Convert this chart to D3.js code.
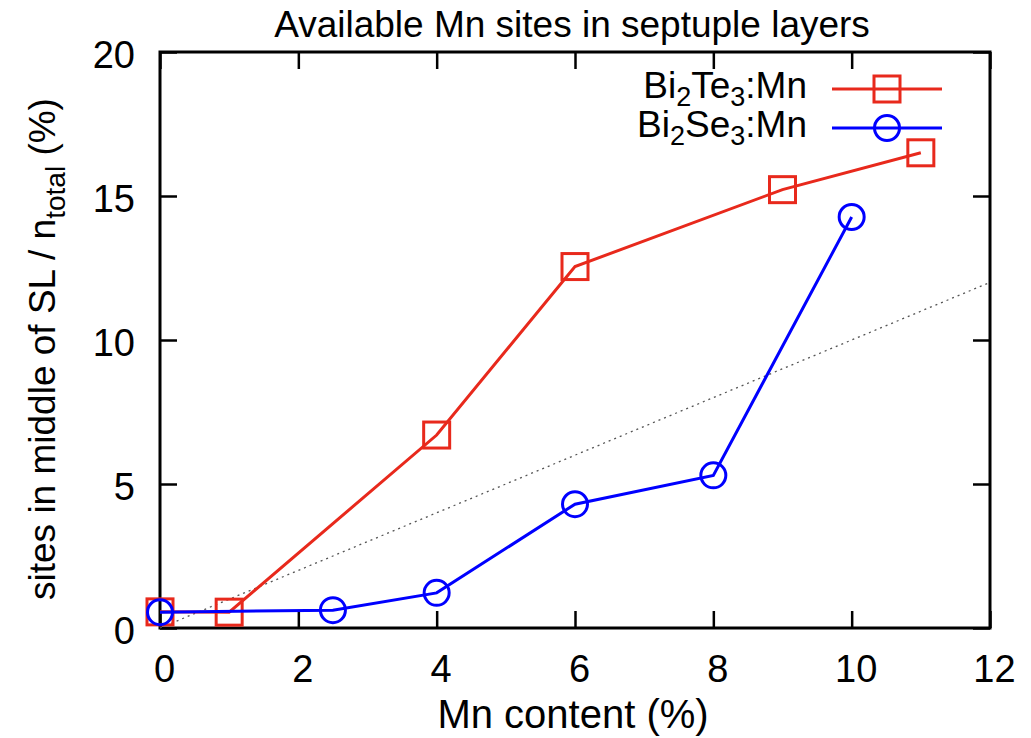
<!DOCTYPE html>
<html>
<head>
<meta charset="utf-8">
<script src="https://cdn.jsdelivr.net/npm/d3@7"></script>
<style>
  body { margin: 0; background: #fff; }
  svg text { font-family: "Liberation Sans", Arial, sans-serif; fill: #000; }
</style>
</head>
<body>
<svg id="chart" width="1031" height="738"></svg>
<script>
// data
const teX = [0, 1, 4, 6, 9, 11];
const teY = [0.56, 0.55, 6.7, 12.55, 15.22, 16.5];
const seX = [0, 2.5, 4, 6, 8, 10];
const seY = [0.55, 0.62, 1.22, 4.3, 5.3, 14.27];
const refLine = [[0, 0], [12, 12]];
const xTicks = [0, 2, 4, 6, 8, 10, 12];
const yTicks = [0, 5, 10, 15, 20];

const margin = {left: 160, top: 52, right: 41, bottom: 110};
const W = 1031, H = 738;
const width = W - margin.left - margin.right;
const height = H - margin.top - margin.bottom;

const svg = d3.select("#chart");
const g = svg.append("g")
  .attr("transform", "translate(" + margin.left + "," + margin.top + ")");

const x = d3.scaleLinear().domain([0, 12]).range([0, width]);
const y = d3.scaleLinear().domain([0, 20]).range([height, 0]);

const tickLen = 17;
const fs = 38;

// axes (ticks inward, mirrored)
const axBottom = g.append("g").attr("transform", "translate(0," + height + ")")
  .call(d3.axisBottom(x).tickValues(xTicks).tickSize(-tickLen).tickPadding(27).tickFormat(d3.format("d")));
const axTop = g.append("g")
  .call(d3.axisTop(x).tickValues(xTicks).tickSize(-tickLen).tickFormat(""));
const axLeft = g.append("g")
  .call(d3.axisLeft(y).tickValues(yTicks).tickSize(-tickLen).tickPadding(25).tickFormat(d3.format("d")));
const axRight = g.append("g").attr("transform", "translate(" + width + ",0)")
  .call(d3.axisRight(y).tickValues(yTicks).tickSize(-tickLen).tickFormat(""));

[axBottom, axTop, axLeft, axRight].forEach(a => {
  a.select(".domain").remove();
  a.selectAll(".tick line").attr("stroke", "#000").attr("stroke-width", 2.5);
  a.selectAll(".tick text").attr("font-size", fs).attr("font-family", "Liberation Sans, Arial, sans-serif").attr("fill", "#000");
});
axBottom.selectAll(".tick text").attr("dx", 4);
axLeft.selectAll(".tick text").attr("dy", "0.42em");

g.append("rect").attr("x", 0).attr("y", 0).attr("width", width).attr("height", height)
  .attr("fill", "none").attr("stroke", "#000").attr("stroke-width", 3);

// reference y = x line
g.append("path").datum(refLine)
  .attr("d", d3.line().x(d => x(d[0])).y(d => y(d[1])))
  .attr("fill", "none").attr("stroke", "#555").attr("stroke-width", 1.3).attr("stroke-dasharray", "2,4");

const red = "#e8291c", blue = "#0000ff";
const line = d3.line().x(d => x(d[0])).y(d => y(d[1]));
const teData = teX.map((v, i) => [v, teY[i]]);
const seData = seX.map((v, i) => [v, seY[i]]);
const sq = 26, r = 12.5;

g.append("path").datum(teData).attr("d", line)
  .attr("fill", "none").attr("stroke", red).attr("stroke-width", 3);
g.selectAll(".sq").data(teData).enter().append("rect")
  .attr("x", d => x(d[0]) - sq / 2).attr("y", d => y(d[1]) - sq / 2)
  .attr("width", sq).attr("height", sq)
  .attr("fill", "none").attr("stroke", red).attr("stroke-width", 3);

g.append("path").datum(seData).attr("d", line)
  .attr("fill", "none").attr("stroke", blue).attr("stroke-width", 3);
g.selectAll(".ci").data(seData).enter().append("circle")
  .attr("cx", d => x(d[0])).attr("cy", d => y(d[1])).attr("r", r)
  .attr("fill", "none").attr("stroke", blue).attr("stroke-width", 3);

// legend
const legend = [
  {base: "Bi", s1: "2", mid: "Te", s2: "3", tail: ":Mn", color: red, shape: "sq", yy: 89},
  {base: "Bi", s1: "2", mid: "Se", s2: "3", tail: ":Mn", color: blue, shape: "ci", yy: 128}
];
legend.forEach(l => {
  const t = svg.append("text").attr("x", 807).attr("y", l.yy + 9)
    .attr("text-anchor", "end").attr("font-size", 37);
  t.append("tspan").text(l.base);
  t.append("tspan").attr("dy", 8).attr("font-size", 27).text(l.s1);
  t.append("tspan").attr("dy", -8).text(l.mid);
  t.append("tspan").attr("dy", 8).attr("font-size", 27).text(l.s2);
  t.append("tspan").attr("dy", -8).text(l.tail);
  svg.append("line").attr("x1", 832).attr("x2", 942).attr("y1", l.yy).attr("y2", l.yy)
    .attr("stroke", l.color).attr("stroke-width", 3);
  if (l.shape === "sq") {
    svg.append("rect").attr("x", 887 - sq / 2).attr("y", l.yy - sq / 2).attr("width", sq).attr("height", sq)
      .attr("fill", "none").attr("stroke", l.color).attr("stroke-width", 3);
  } else {
    svg.append("circle").attr("cx", 887).attr("cy", l.yy).attr("r", r)
      .attr("fill", "none").attr("stroke", l.color).attr("stroke-width", 3);
  }
});

// title and axis labels
svg.append("text").attr("x", 572).attr("y", 37).attr("text-anchor", "middle")
  .attr("font-size", 37).text("Available Mn sites in septuple layers");
svg.append("text").attr("x", 573).attr("y", 728).attr("text-anchor", "middle")
  .attr("font-size", 40).text("Mn content (%)");
const yl = svg.append("text").attr("transform", "translate(55,349) rotate(-90)")
  .attr("text-anchor", "middle").attr("font-size", 37);
yl.append("tspan").text("sites in middle of SL / n");
yl.append("tspan").attr("dy", 10).attr("font-size", 28).text("total");
yl.append("tspan").attr("dy", -10).text(" (%)");
</script>
</body>
</html>
